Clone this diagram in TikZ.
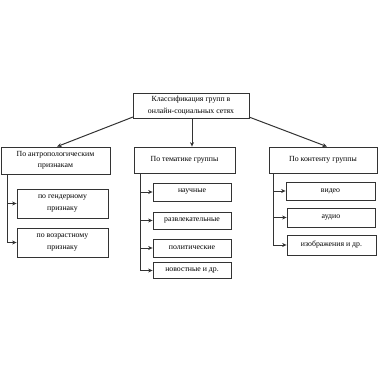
\documentclass[tikz,border=0pt]{standalone}
\usepackage{fontspec}
\setmainfont{Liberation Serif}
\usetikzlibrary{arrows.meta}
\begin{document}
\begin{tikzpicture}[x=1pt,y=-1pt,
  box/.style={draw=black!80, line width=0.8pt, fill=white, inner sep=0pt, align=center, font=\fontsize{7.8}{11.5}\selectfont},
  conn/.style={draw=black!80, line width=1pt},
  arr/.style={conn, -{Stealth[length=4.5pt,width=4pt]}}]
\useasboundingbox (0,0) rectangle (380,380);
% top
\node[box, minimum width=116pt, minimum height=25pt] (top) at (191,105.5) {Классификация групп в\\онлайн-социальных сетях};
% level 1
\node[box, minimum width=109pt, minimum height=27pt] (L) at (55.5,160.5) {По антропологическим\\признакам};
\node[box, minimum width=101pt, minimum height=26pt] (M) at (184.5,160) {По тематике группы};
\node[box, minimum width=108pt, minimum height=26pt] (R) at (323,160) {По контенту группы};
% left subs
\node[box, minimum width=91pt, minimum height=29pt] (L1) at (62.5,203.5) {по гендерному\\признаку};
\node[box, minimum width=91pt, minimum height=29pt] (L2) at (62.5,242.5) {по возрастному\\признаку};
% middle subs
\node[box, minimum width=78pt, minimum height=18pt] (M1) at (192,192) {научные};
\node[box, minimum width=78pt, minimum height=17pt] (M2) at (192,220.5) {развлекательные};
\node[box, minimum width=78pt, minimum height=18pt] (M3) at (192,248) {политические};
\node[box, minimum width=78pt, minimum height=16pt] (M4) at (192,270.5) {новостные и др.};
% right subs
\node[box, minimum width=89pt, minimum height=18pt] (R1) at (330.5,191) {видео};
\node[box, minimum width=88pt, minimum height=19pt] (R2) at (331,217.5) {аудио};
\node[box, minimum width=89pt, minimum height=20pt] (R3) at (331.5,245) {изображения и др.};
% top connectors
\coordinate (tl) at (133,117);
\coordinate (tr) at (249,117);
\draw[arr] (tl) -- (L.north -| 57,0);
\draw[arr] (top.south -| 192,0) -- (M.north -| 192,0);
\draw[arr] (tr) -- (R.north -| 327,0);
% left branch
\coordinate (lv) at (7,174);
\draw[conn] (L.south -| lv) -- (7,242.5);
\draw[arr] (7,203.5) -- (L1.west);
\draw[arr] (7,242.5) -- (L2.west);
% middle branch
\draw[conn] (M.south -| 140,0) -- (140,270.5);
\draw[arr] (140,192) -- (M1.west);
\draw[arr] (140,220.5) -- (M2.west);
\draw[arr] (140,248) -- (M3.west);
\draw[arr] (140,270.5) -- (M4.west);
% right branch
\draw[conn] (R.south -| 273,0) -- (273,245);
\draw[arr] (273,191) -- (R1.west);
\draw[arr] (273,217.5) -- (R2.west);
\draw[arr] (273,245) -- (R3.west);
\end{tikzpicture}
\end{document}
